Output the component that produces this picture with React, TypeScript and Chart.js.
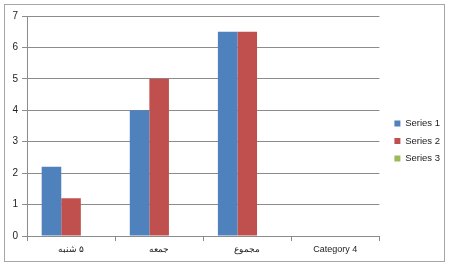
import React, { useEffect, useRef } from "react";
import { Chart, registerables } from "chart.js";

Chart.register(...registerables);

const categories = ["\u200F۵ شنبه", "جمعه", "مجموع", "Category 4"];
const series1 = [2.2, 4, 6.5, null];
const series2 = [1.2, 5, 6.5, null];
const series3 = [null, null, null, null];
const seriesNames = ["Series 1", "Series 2", "Series 3"];
const yTicks = { min: 0, max: 7, step: 1 };

const FONT = "'Liberation Sans', Arial, sans-serif";

const frame = {
  id: "frame",
  afterLayout(chart: any) {
    if (chart.legend) {
      chart.legend.left += 7;
      chart.legend.right += 7;
    }
  },
  beforeDraw(chart: any) {
    const ctx = chart.ctx;
    ctx.save();
    ctx.fillStyle = "#ffffff";
    ctx.fillRect(0, 0, chart.width, chart.height);
    ctx.strokeStyle = "#a6a6a6";
    ctx.lineWidth = 1;
    ctx.strokeRect(4.5, 4.5, 440, 257);
    ctx.restore();
  },
};

export default function App() {
  const ref = useRef<HTMLCanvasElement>(null);
  useEffect(() => {
    if (!ref.current) return;
    const chart = new Chart(ref.current, {
      type: "bar",
      data: {
        labels: categories,
        datasets: [
          { label: seriesNames[0], data: series1, backgroundColor: "#4F81BD" },
          { label: seriesNames[1], data: series2, backgroundColor: "#C0504D" },
          { label: seriesNames[2], data: series3, backgroundColor: "#9BBB59" },
        ],
      },
      options: {
        animation: false,
        responsive: false,
        layout: { padding: { top: 16, left: 6, right: 7, bottom: 0 } },
        datasets: { bar: { categoryPercentage: 3 / 4.5, barPercentage: 1 } },
        plugins: {
          tooltip: { enabled: false },
          legend: {
            position: "right",
            labels: {
              boxWidth: 6,
              boxHeight: 6,
              padding: 8,
              color: "#222",
              font: { family: FONT, size: 9.5 },
            },
          },
        },
        scales: {
          x: {
            grid: {
              drawOnChartArea: false,
              drawTicks: true,
              tickLength: 5,
              color: "#8c8c8c",
            },
            border: { display: true, color: "#8c8c8c" },
            ticks: { color: "#222", font: { family: FONT, size: 9 }, padding: 3, maxRotation: 0 },
            afterFit: (s: any) => { s.height = 30; },
          },
          y: {
            min: yTicks.min,
            max: yTicks.max,
            ticks: { stepSize: yTicks.step, color: "#222", font: { family: FONT, size: 10 }, padding: 4 },
            grid: { color: "#8c8c8c", tickLength: 5 },
            border: { display: true, color: "#8c8c8c" },
            afterFit: (s: any) => { s.width = 21; },
          },
        },
      },
      plugins: [frame],
    });
    return () => chart.destroy();
  }, []);
  return (
    <div style={{ position: "absolute", left: 0, top: 0, width: 450, height: 266 }}>
      <canvas ref={ref} width={450} height={266} />
    </div>
  );
}
